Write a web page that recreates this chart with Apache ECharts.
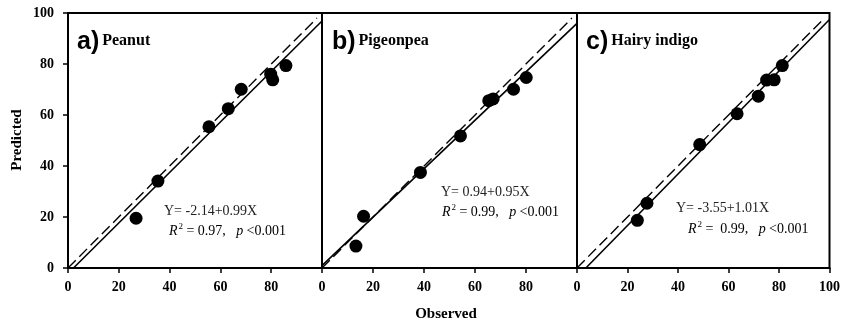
<!DOCTYPE html>
<html lang="en">

<head>
    <meta charset="UTF-8">
    <title>Observed vs Predicted</title>
    <script src="https://cdn.jsdelivr.net/npm/echarts@6/dist/echarts.min.js"></script>
    <style>
        body,
        html {
            margin: 0;
            padding: 0;
            background: #fff;
        }

        #main {
            width: 843px;
            height: 323px;
        }
    </style>
</head>

<body>
    <div id="main"></div>
    <script>
        // data
        var obsA = [26.8, 35.4, 55.5, 63.1, 68.2, 79.8, 80.6, 85.8];
        var predA = [19.5, 34.1, 55.4, 62.5, 70.1, 76.0, 73.8, 79.4];
        var obsB = [13.3, 16.3, 38.6, 54.3, 65.4, 67.1, 75.1, 80.1];
        var predB = [8.6, 20.3, 37.5, 51.8, 65.6, 66.3, 70.1, 74.7];
        var obsC = [23.9, 27.7, 48.6, 63.4, 71.8, 75.1, 78.1, 81.3];
        var predC = [18.7, 25.4, 48.4, 60.5, 67.4, 73.7, 73.8, 79.4];
        // regression line end points and 1:1 line
        var fitA = [[2.16, 0], [100, 96.86]];
        var fitB = [[0, 0.94], [100, 95.94]];
        var fitC = [[3.51, 0], [100, 97.45]];
        var oneToOne = [[0, 0], [98, 98]];
        var xTicks = [0, 20, 40, 60, 80, 100];
        var panelNames = ['Peanut', 'Pigeonpea', 'Hairy indigo'];
        var panelTags = ['a)', 'b)', 'c)'];
        var eqTexts = ['Y= -2.14+0.99X', 'Y= 0.94+0.95X', 'Y= -3.55+1.01X'];
        var r2Texts = ['= 0.97,   ', '= 0.99,   ', '=  0.99,   '];

        var serif = '"Liberation Serif", "Times New Roman", serif';
        var sans = '"Liberation Sans", Arial, sans-serif';

        function pairs(xs, ys) {
            var out = [];
            for (var i = 0; i < xs.length; i++) {
                out.push([xs[i], ys[i]]);
            }
            return out;
        }

        var grids = [
            { left: 68, top: 13, width: 254, height: 255 },
            { left: 322, top: 13, width: 255, height: 255 },
            { left: 577, top: 13, width: 254, height: 255 }
        ];
        grids.forEach(function (g) {
            g.show = true;
            g.borderColor = '#000';
            g.borderWidth = 2;
            g.backgroundColor = 'transparent';
        });

        var xAxes = [];
        var yAxes = [];
        for (var i = 0; i < 3; i++) {
            xAxes.push({
                type: 'value',
                gridIndex: i,
                min: xTicks[0],
                max: xTicks[xTicks.length - 1],
                interval: 20,
                splitLine: { show: false },
                axisLine: { show: true, onZero: false, lineStyle: { color: '#000', width: 2 } },
                axisTick: { show: true, inside: false, length: 5, lineStyle: { color: '#000', width: 1.5 } },
                axisLabel: {
                    show: true,
                    showMaxLabel: i == 2,
                    margin: 12,
                    color: '#000',
                    fontFamily: serif,
                    fontWeight: 'bold',
                    fontSize: 14
                }
            });
            yAxes.push({
                type: 'value',
                gridIndex: i,
                min: 0,
                max: 100,
                interval: 20,
                splitLine: { show: false },
                axisLine: { show: true, onZero: false, lineStyle: { color: '#000', width: 2 } },
                axisTick: { show: i == 0, inside: false, length: 5, lineStyle: { color: '#000', width: 1.5 } },
                axisLabel: {
                    show: i == 0,
                    margin: 14,
                    color: '#000',
                    fontFamily: serif,
                    fontWeight: 'bold',
                    fontSize: 14
                }
            });
        }

        var pts = [pairs(obsA, predA), pairs(obsB, predB), pairs(obsC, predC)];
        var fits = [fitA, fitB, fitC];
        var series = [];
        for (var i = 0; i < 3; i++) {
            series.push({
                type: 'line',
                xAxisIndex: i,
                yAxisIndex: i,
                data: oneToOne,
                showSymbol: false,
                clip: true,
                silent: true,
                lineStyle: { color: '#000', width: 1.4, type: [11, 5] },
                z: 2
            });
            series.push({
                type: 'line',
                xAxisIndex: i,
                yAxisIndex: i,
                data: fits[i],
                showSymbol: false,
                clip: true,
                silent: true,
                lineStyle: { color: '#000', width: 1.6 },
                z: 2
            });
            series.push({
                type: 'scatter',
                xAxisIndex: i,
                yAxisIndex: i,
                data: pts[i],
                symbol: 'circle',
                symbolSize: 13,
                itemStyle: { color: '#000', opacity: 1 },
                z: 3
            });
        }

        // text positions
        var tagPos = [[77, 42], [332, 42], [586, 42]];
        var eqPos = [[164, 211], [441, 192], [676, 208]];
        var r2Pos = [[169, 231], [442, 212], [688, 229]];
        var graphic = [];
        for (var i = 0; i < 3; i++) {
            graphic.push({
                type: 'text',
                x: tagPos[i][0],
                y: tagPos[i][1],
                style: {
                    text: '{tag|' + panelTags[i] + '}{name|' + panelNames[i] + '}',
                    textVerticalAlign: 'middle',
                    rich: {
                        tag: { fontFamily: sans, fontWeight: 'bold', fontSize: 25, color: '#000' },
                        name: { fontFamily: serif, fontWeight: 'bold', fontSize: 16, color: '#000', padding: [0, 0, 2, 3] }
                    }
                }
            });
            graphic.push({
                type: 'text',
                x: eqPos[i][0],
                y: eqPos[i][1],
                style: {
                    text: eqTexts[i],
                    font: '14px ' + serif,
                    fill: '#222',
                    textVerticalAlign: 'middle'
                }
            });
            graphic.push({
                type: 'text',
                x: r2Pos[i][0],
                y: r2Pos[i][1],
                style: {
                    text: '{i|R}{s|2} {t|' + r2Texts[i] + '}{i|p} {t|<0.001}',
                    textVerticalAlign: 'middle',
                    rich: {
                        i: { fontFamily: serif, fontStyle: 'italic', fontSize: 14, color: '#222' },
                        s: { fontFamily: serif, fontSize: 9, color: '#222', padding: [0, 0, 9, 1] },
                        t: { fontFamily: serif, fontSize: 14, color: '#222' }
                    }
                }
            });
        }
        graphic.push({
            type: 'text',
            x: 17,
            y: 140,
            rotation: Math.PI / 2,
            style: {
                text: 'Predicted',
                font: 'bold 15px ' + serif,
                fill: '#000',
                textAlign: 'center',
                textVerticalAlign: 'middle'
            }
        });
        graphic.push({
            type: 'text',
            x: 446,
            y: 314,
            style: {
                text: 'Observed',
                font: 'bold 15px ' + serif,
                fill: '#000',
                textAlign: 'center',
                textVerticalAlign: 'middle'
            }
        });

        var myChart = echarts.init(document.getElementById('main'));
        myChart.setOption({
            animation: false,
            grid: grids,
            xAxis: xAxes,
            yAxis: yAxes,
            series: series,
            graphic: graphic
        });
    </script>
</body>

</html>
